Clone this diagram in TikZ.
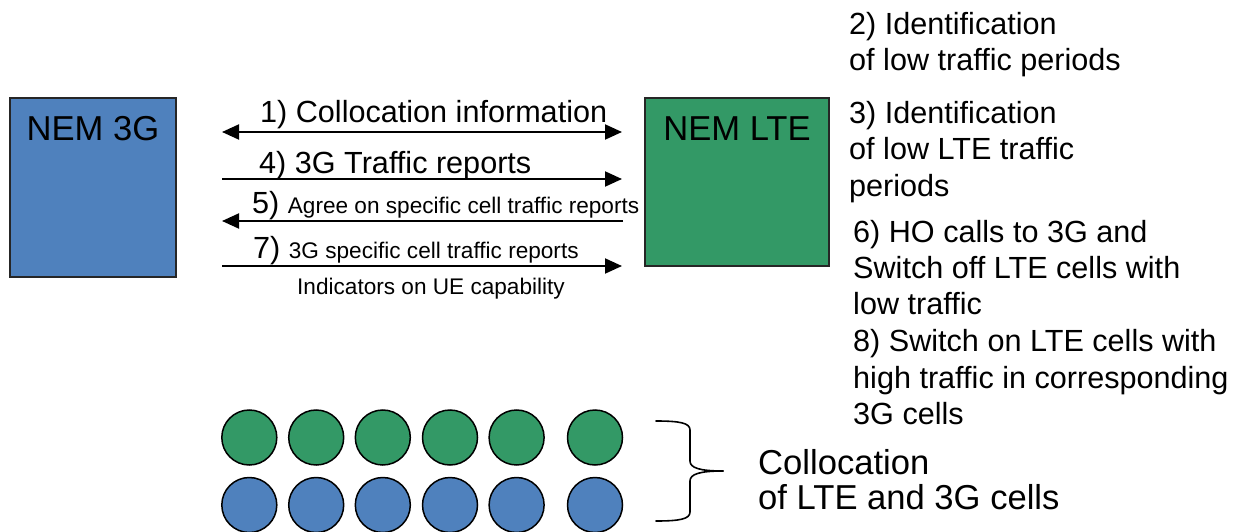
\documentclass[tikz,border=0pt]{standalone}
\usepackage{fontspec}
\setmainfont{Liberation Sans}
\usetikzlibrary{arrows.meta}
\definecolor{nemblue}{HTML}{4F81BD}
\definecolor{nemgreen}{HTML}{339966}
\newcommand\fbig{\fontsize{34.6}{40}\selectfont}
\newcommand\fmid{\fontsize{30.6}{36}\selectfont}
\newcommand\fsml{\fontsize{22.6}{27}\selectfont}
\tikzset{
  nembox/.style={draw=black!85, line width=1.5pt, inner sep=0pt},
  boxlabel/.style={anchor=base, inner sep=0pt, font=\fbig},
  lbl/.style={anchor=base west, inner sep=0pt, font=\fmid},
  lbls/.style={anchor=base west, inner sep=0pt, font=\fsml},
  lblb/.style={anchor=base west, inner sep=0pt, font=\fbig},
  msg/.style={line width=2pt, >={Triangle[length=17pt,width=15pt]}},
  cell/.style={circle, draw=black, line width=1.5pt, minimum size=55pt, inner sep=0pt},
  bracestyle/.style={line width=1.6pt, line cap=round, line join=round}
}
\begin{document}
\begin{tikzpicture}[x=1pt,y=-1pt]
\useasboundingbox (0,0) rectangle (1239,532);
% boxes
\node[nembox, fill=nemblue, minimum width=166pt, minimum height=179pt] (n3g) at (93,187.5) {};
\node[boxlabel] (n3gtxt) at (93,140) {NEM 3G};
\node[nembox, fill=nemgreen, minimum width=184pt, minimum height=168pt] (nlte) at (737,182) {};
\node[boxlabel] (nltetxt) at (737,140) {NEM LTE};
% arrow ends
\coordinate (a1l) at (222,132); \coordinate (a1r) at (622,132);
\coordinate (a4l) at (222,179); \coordinate (a4r) at (622,179);
\coordinate (a5l) at (222,221); \coordinate (a5r) at (623,221);
\coordinate (a7l) at (222,266); \coordinate (a7r) at (622,266);
\draw[msg, <->] (a1l) -- (a1r);
\draw[msg, ->] (a4l) -- (a4r);
\draw[msg, ->] (a5r) -- (a5l);
\draw[msg, ->] (a7l) -- (a7r);
% arrow labels
\node[lbl] (l1) at (260,123) {1) Collocation information};
\node[lbl] (l4) at (259,173) {4) 3G Traffic reports};
\node[lbl] (l5) at (252,213) {5) {\fsml Agree on specific cell traffic reports}};
\node[lbl] (l7) at (253,258) {7) {\fsml 3G specific cell traffic reports}};
\node[lbls] (l7b) at (297,294) {Indicators on UE capability};
% right texts
\node[lbl] (r2a) at (849,35) {2) Identification};
\node[lbl] (r2b) at (849,70.5) {of low traffic periods};
\node[lbl] (r3a) at (849,123.5) {3) Identification};
\node[lbl] (r3b) at (849,159.5) {of low LTE traffic};
\node[lbl] (r3c) at (849,196) {periods};
\node[lbl] (r6a) at (853,242) {6) HO calls to 3G and};
\node[lbl] (r6b) at (853,278) {Switch off LTE cells with};
\node[lbl] (r6c) at (853,314) {low traffic};
\node[lbl] (r8a) at (853,351.5) {8) Switch on LTE cells with};
\node[lbl] (r8b) at (853,388) {high traffic in corresponding};
\node[lbl] (r8c) at (853,424) {3G cells};
% cells
\foreach \x [count=\i] in {249.3,316.2,382.8,450,516.6,595} {
  \node[cell, fill=nemgreen] (g\i) at (\x,437.5) {};
  \node[cell, fill=nemblue] (b\i) at (\x,505) {};
}
% brace
\coordinate (brtip) at (723,471);
\draw[bracestyle] (656,421) .. controls (680,421) and (690,423) .. (690,430)
  -- (690,461) .. controls (690,468) and (700,471) .. (brtip);
\draw[bracestyle] (brtip) .. controls (700,471) and (690,474) .. (690,481)
  -- (690,512) .. controls (690,519) and (680,521) .. (656,521);
\node[lblb] (col1) at (758,474) {Collocation};
\node[lblb] (col2) at (758,509) {of LTE and 3G cells};
\end{tikzpicture}
\end{document}
